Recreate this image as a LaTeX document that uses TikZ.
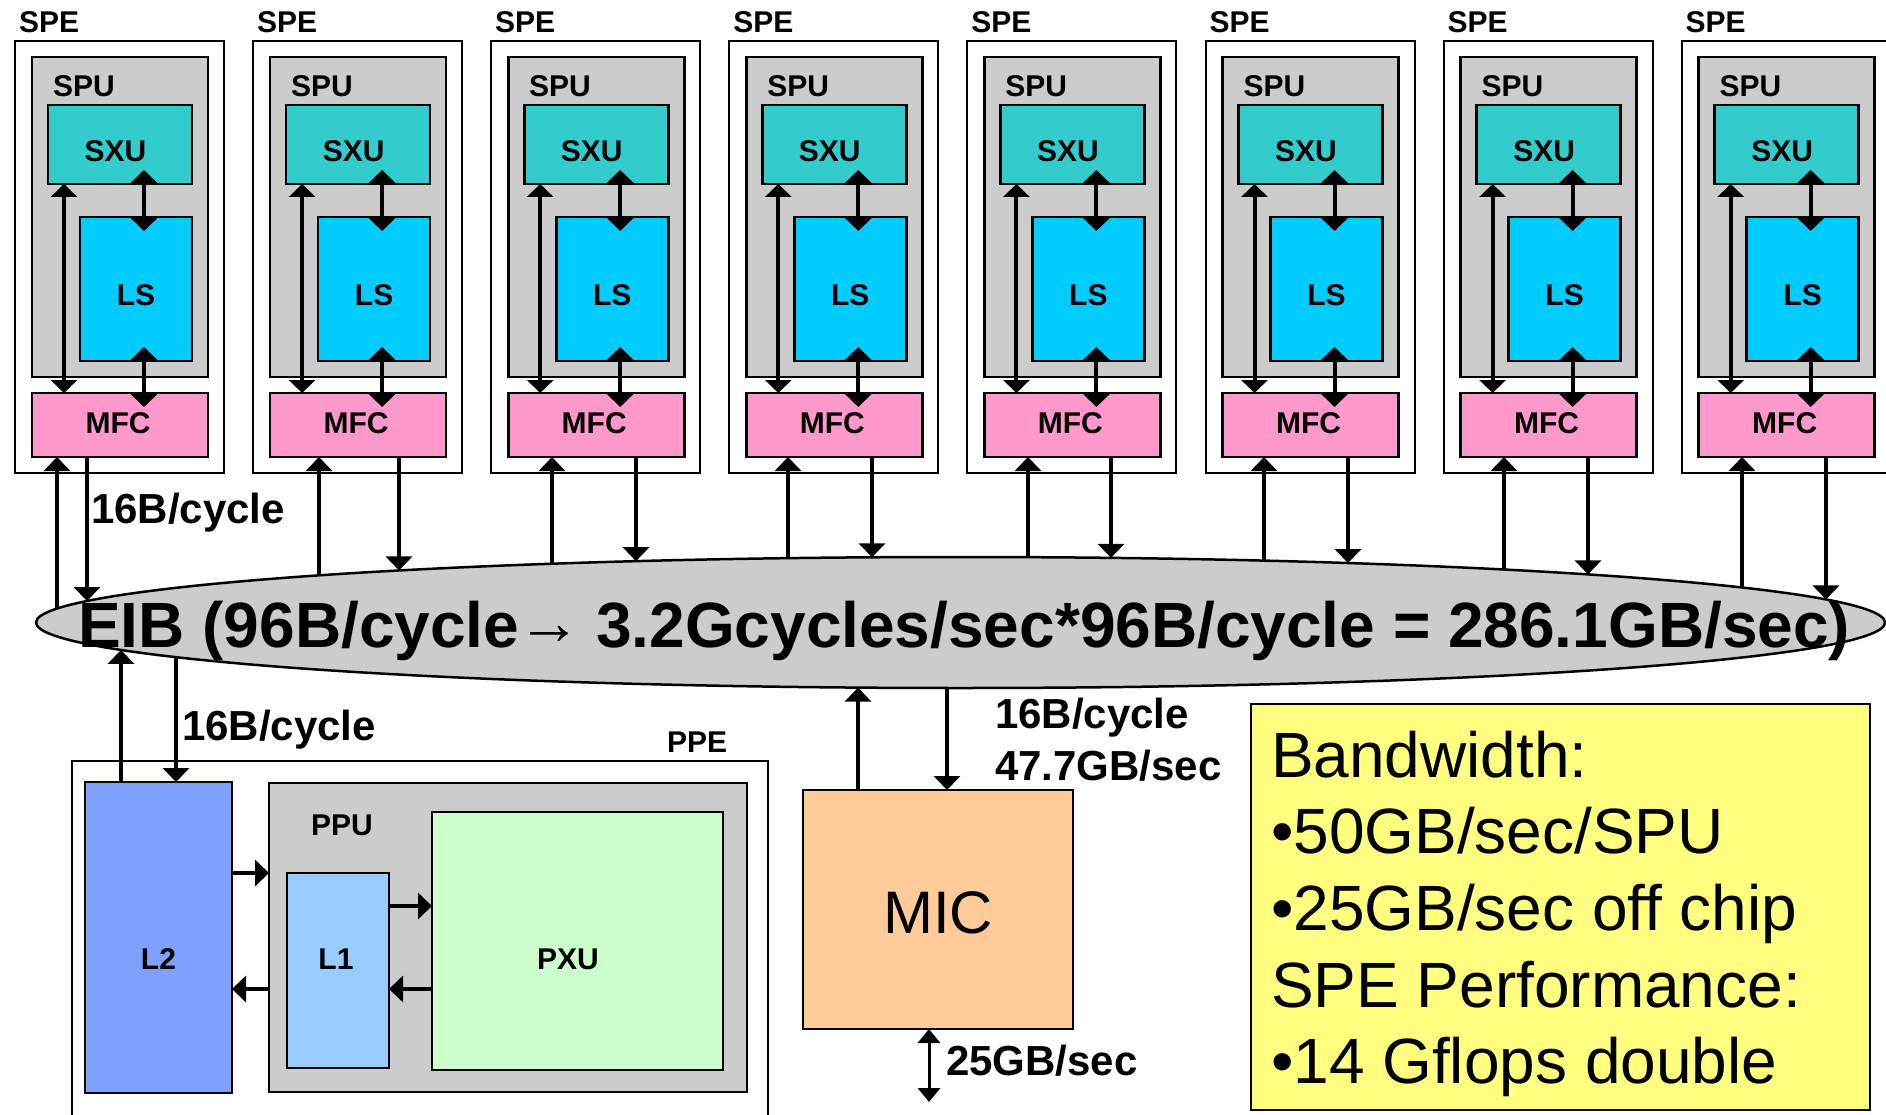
\documentclass[tikz,border=0pt]{standalone}
\usepackage{fontspec}
\setmainfont{Liberation Sans}
\usetikzlibrary{arrows.meta,shapes.geometric}
\definecolor{grayfill}{HTML}{CCCCCC}
\definecolor{sxucol}{HTML}{33CCCC}
\definecolor{lscol}{HTML}{00CCFF}
\definecolor{mfccol}{HTML}{FF99CC}
\definecolor{ltwocol}{HTML}{80A0FF}
\definecolor{lonecol}{HTML}{99CCFF}
\definecolor{pxucol}{HTML}{CCFFCC}
\definecolor{miccol}{HTML}{FFCC99}
\definecolor{notecol}{HTML}{FFFF80}
\newcommand\smallboldfont{\bfseries\fontsize{30}{30}\selectfont}
\newcommand\rateboldfont{\bfseries\fontsize{42}{42}\selectfont}
\newcommand\notefont{\fontsize{64}{64}\selectfont}
\begin{document}
\begin{tikzpicture}[x=1pt,y=-1pt,
  unitbox/.style={draw, line width=2.7pt, inner sep=0pt, outer sep=0pt, anchor=north west, font=\smallboldfont, text depth=0pt},
  framebox/.style={draw, line width=2pt, inner sep=0pt, outer sep=0pt, anchor=north west},
  lbl/.style={inner sep=0pt, outer sep=0pt, anchor=base west, font=\smallboldfont},
  rate/.style={inner sep=0pt, outer sep=0pt, anchor=base west, font=\rateboldfont},
  note/.style={inner sep=0pt, outer sep=0pt, anchor=base west, font=\notefont},
  arr/.style={line width=4pt, -{Triangle[width=26pt,length=14pt]}},
  darr/.style={line width=4pt, {Triangle[width=26pt,length=13pt]}-{Triangle[width=26pt,length=13pt]}},
  overlaparr/.style={darr, shorten <=-14pt, shorten >=-14pt},
  thinarr/.style={line width=3pt, {Triangle[width=22pt,length=14pt]}-{Triangle[width=22pt,length=14pt]}},
]
\useasboundingbox (0,0) rectangle (1886,1115);
\clip (0,0) rectangle (1886,1115);

% EIB bus
\node[draw, ellipse, fill=grayfill, line width=2.5pt, inner sep=0pt, outer sep=0pt,
      minimum width=1849pt, minimum height=131pt] (eib) at (960.5,622.5) {};
\node[inner sep=0pt, anchor=base west, font=\bfseries\fontsize{64}{64}\selectfont] (eibtext) at (78,647)
  {EIB (96B/cycle\kern-2pt\raisebox{3pt}{→}\kern-3pt{} 3.2Gcycles/sec*96B/cycle = 286.1GB/sec)};

% SPEs
\foreach \idx/\upx/\dnx in {1/57/87, 2/319/399, 3/552/636, 4/788/872, 5/1028/1111, 6/1264/1348, 7/1504/1588, 8/1742/1826}{
  \pgfmathsetmacro\spex{15+238.1*(\idx-1)}
  \node[framebox, minimum width=209pt, minimum height=432pt] (spe\idx) at (\spex,41) {};
  \node[lbl] (spelabel\idx) at (\spex+4,33) {SPE};
  \node[unitbox, fill=grayfill, minimum width=176pt, minimum height=320pt] (spu\idx) at (\spex+17,57) {};
  \node[lbl] (spulabel\idx) at (\spex+38,97) {SPU};
  \node[unitbox, fill=sxucol, minimum width=144pt, minimum height=79pt, text height=35pt] (sxu\idx) at (\spex+33,105) {SXU\kern9pt};
  \node[unitbox, fill=lscol, minimum width=112pt, minimum height=144pt, text height=32pt] (ls\idx) at (\spex+65,217) {LS};
  \node[unitbox, fill=mfccol, minimum width=176pt, minimum height=64pt, text height=16pt] (mfc\idx) at (\spex+17,393) {MFC\kern4pt};
  \coordinate (sidelink\idx) at ([xshift=16pt]sxu\idx.south west);
  \coordinate (lstop\idx) at ([xshift=64pt]ls\idx.north west);
  \coordinate (lsbot\idx) at ([xshift=64pt]ls\idx.south west);
  \draw[darr] (sidelink\idx) -- (sidelink\idx |- mfc\idx.north);
  \draw[overlaparr] (lstop\idx |- sxu\idx.south) -- (lstop\idx);
  \draw[overlaparr] (lsbot\idx) -- (lsbot\idx |- mfc\idx.north);
  \pgfmathsetmacro\upy{622.5-65.5*sqrt(1-((\upx-960.5)/924.5)^2)}
  \pgfmathsetmacro\dny{622.5-65.5*sqrt(1-((\dnx-960.5)/924.5)^2)}
  \coordinate (busup\idx) at (\upx,\upy);
  \coordinate (busdn\idx) at (\dnx,\dny);
  \draw[arr] (busup\idx) -- (busup\idx |- mfc\idx.south);
  \draw[arr] (busdn\idx |- mfc\idx.south) -- (busdn\idx);
}
\node[rate] (spebw) at (91,523) {16B/cycle};

% PPE
\node[framebox, minimum width=696pt, minimum height=420pt] (ppe) at (72,761) {};
\node[lbl] (ppelabel) at (667,752) {PPE};
\node[unitbox, fill=ltwocol, minimum width=147pt, minimum height=311pt, text height=63pt] (ltwo) at (85,782) {L2};
\node[unitbox, fill=grayfill, minimum width=478pt, minimum height=309pt] (ppu) at (269,783) {};
\node[lbl] (ppulabel) at (311,835) {PPU};
\node[unitbox, fill=lonecol, minimum width=102pt, minimum height=195pt, text height=0pt, text depth=3pt] (lone) at (287,873) {L1\kern4pt};
\node[unitbox, fill=pxucol, minimum width=291pt, minimum height=258pt, text height=56pt] (pxu) at (432,812) {PXU\kern19pt};
\draw[arr] (ltwo.east |- 0,873) -- (ppu.west |- 0,873);
\draw[arr] (ppu.west |- 0,989) -- (ltwo.east |- 0,989);
\draw[arr] (lone.east |- 0,906) -- (pxu.west |- 0,906);
\draw[arr] (pxu.west |- 0,989) -- (lone.east |- 0,989);
\pgfmathsetmacro\ltwoupy{622.5+65.5*sqrt(1-((121-960.5)/924.5)^2)}
\pgfmathsetmacro\ltwodny{622.5+65.5*sqrt(1-((176-960.5)/924.5)^2)}
\coordinate (ppeup) at (121,\ltwoupy);
\coordinate (ppedn) at (176,\ltwodny);
\draw[arr] (ppeup |- ltwo.north) -- (ppeup);
\draw[arr] (ppedn) -- (ppedn |- ltwo.north);
\node[rate] (ppebw) at (182,740) {16B/cycle};

% MIC
\node[unitbox, fill=miccol, minimum width=270pt, minimum height=239pt, text height=47pt,
      font=\fontsize{60}{60}\selectfont] (mic) at (803,790) {MIC};
\pgfmathsetmacro\micupy{622.5+65.5*sqrt(1-((858-960.5)/924.5)^2)}
\pgfmathsetmacro\micdny{622.5+65.5*sqrt(1-((947-960.5)/924.5)^2)}
\coordinate (micup) at (858,\micupy);
\coordinate (micdn) at (947,\micdny);
\draw[arr] (micup |- mic.north) -- (micup);
\draw[arr] (micdn) -- (micdn |- mic.north);
\node[rate] (micbwa) at (995,728) {16B/cycle};
\node[rate] (micbwb) at (995,780) {47.7GB/sec};
\coordinate (offchip) at (929,1102);
\draw[thinarr] (offchip |- mic.south) -- (offchip);
\node[rate] (offchipbw) at (946,1075) {25GB/sec};

% note box
\node[unitbox, fill=notecol, minimum width=619pt, minimum height=406pt] (notebox) at (1251,704) {};
\node[note] (notea) at (1271,777) {Bandwidth:};
\node[note] (noteb) at (1271,853) {•50GB/sec/SPU};
\node[note] (notec) at (1271,930) {•25GB/sec off chip};
\node[note] (noted) at (1271,1007) {SPE Performance:};
\node[note] (notee) at (1271,1083) {•14 Gflops double};
\end{tikzpicture}
\end{document}
